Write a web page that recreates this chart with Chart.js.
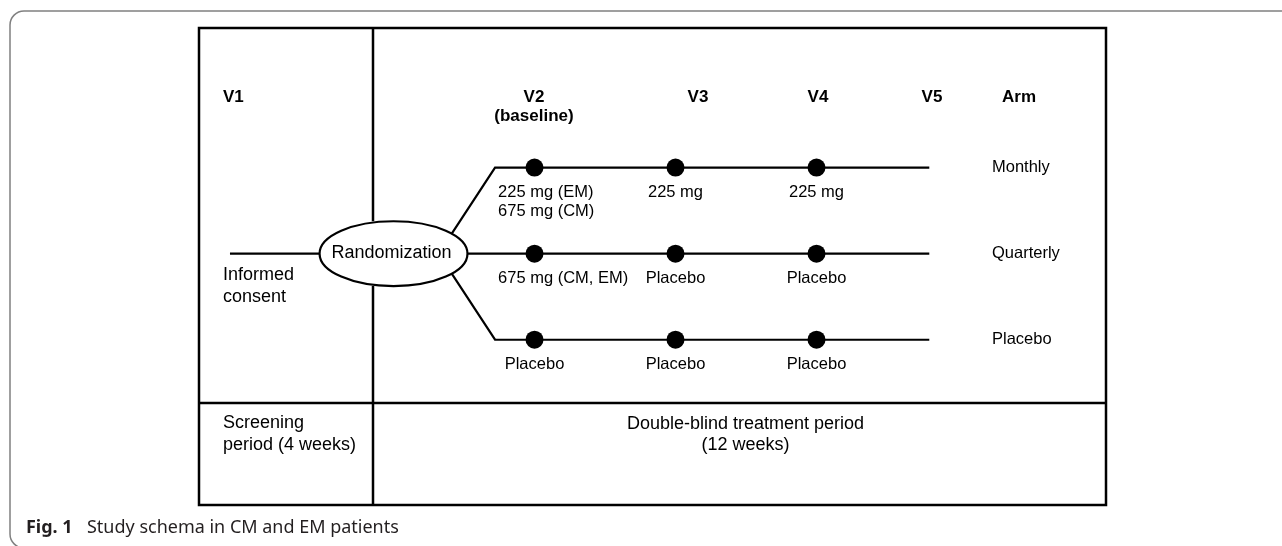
<!DOCTYPE html>
<html>
<head>
<meta charset="utf-8">
<title>Study schema</title>
<script src="https://cdn.jsdelivr.net/npm/chart.js@4.4.1/dist/chart.umd.min.js"></script>
<style>
  html, body { margin: 0; padding: 0; background: #fff; }
  #wrap { width: 1282px; height: 546px; }
</style>
</head>
<body>
<div id="wrap"><canvas id="schema" width="1282" height="546"></canvas></div>
<script>
// visits along the top of the schema
var visits = ['V1', 'V2', 'V3', 'V4', 'V5'];
var visitNotes = ['', '(baseline)', '', '', ''];
var armHeader = 'Arm';

// treatment arms, top to bottom
var arms = ['Monthly', 'Quarterly', 'Placebo'];

// injections happen at V2, V3 and V4 (index into visits)
var doseVisits = [1, 2, 3];
var monthlyDoses = [['225 mg (EM)', '675 mg (CM)'], ['225 mg'], ['225 mg']];
var quarterlyDoses = [['675 mg (CM, EM)'], ['Placebo'], ['Placebo']];
var placeboDoses = [['Placebo'], ['Placebo'], ['Placebo']];

var hubLabel = 'Randomization';
var consentLabel = ['Informed', 'consent'];
var screeningLabel = ['Screening', 'period (4 weeks)'];
var treatmentLabel = ['Double-blind treatment period', '(12 weeks)'];
var captionBold = 'Fig. 1';
var captionText = 'Study schema in CM and EM patients';

// ---- layout (pixels) ----
var W = 1282, H = 546;
var STEP_PX = 143;     // distance between two visits
var ARM_PX = 89;       // distance between two arms
var V2_PX = 533;       // where V2 sits
var ARM0_PX = 164;     // where the first arm sits

// scale ranges so a visit index / arm index lands on the grid
var xMin = 1 - V2_PX / STEP_PX, xMax = xMin + W / STEP_PX;
var yMin = -ARM0_PX / ARM_PX, yMax = yMin + H / ARM_PX;

var HUB = { x: 0, y: 1, rx: 75 / STEP_PX, ry: 33.5 / ARM_PX };
var FORK_X = 0.72;     // where the upper / lower arms turn flat
var END_X = 3.8;       // end of the arm lines (V5)
var CONSENT_X = -1.16;
var EXIT_X = 0.413;    // where the diagonal arms leave the ellipse
var exitDy = HUB.ry * Math.sqrt(1 - Math.pow((EXIT_X - HUB.x) / HUB.rx, 2));

var FONT = '"Liberation Sans", Arial, sans-serif';
var BOX = { left: 199, top: 28, right: 1106, bottom: 505, splitX: 373, splitY: 403 };
var headerX = [223, 534, 698, 818, 932];
var ARM_HEADER_X = 1019;
var HEADER_Y = 97;
var ARM_LABEL_X = 992;

var allDoses = [monthlyDoses, quarterlyDoses, placeboDoses];

// dots for every dose
var dots = [];
arms.forEach(function (arm, a) {
    doseVisits.forEach(function (v) {
        dots.push({ x: v, y: a });
    });
});

// arm lines
var armLines = [
    [{ x: EXIT_X, y: HUB.y - exitDy }, { x: FORK_X, y: 0 }, { x: END_X, y: 0 }],
    [{ x: HUB.x + HUB.rx, y: 1 }, { x: END_X, y: 1 }],
    [{ x: EXIT_X, y: HUB.y + exitDy }, { x: FORK_X, y: 2 }, { x: END_X, y: 2 }]
];
var consentLine = [{ x: CONSENT_X, y: HUB.y }, { x: HUB.x - HUB.rx, y: HUB.y }];

function lineSet(data) {
    return {
        data: data,
        showLine: true,
        borderColor: '#000',
        borderWidth: 2.2,
        pointRadius: 0,
        tension: 0
    };
}

var datasets = [{
    data: dots,
    showLine: false,
    pointRadius: 9,
    pointBackgroundColor: '#000',
    pointBorderWidth: 0
}];
armLines.forEach(function (l) { datasets.push(lineSet(l)); });
datasets.push(lineSet(consentLine));

function roundRect(ctx, x, y, w, h, r) {
    ctx.beginPath();
    ctx.moveTo(x + r, y);
    ctx.lineTo(x + w - r, y);
    ctx.arcTo(x + w, y, x + w, y + r, r);
    ctx.lineTo(x + w, y + h - r);
    ctx.arcTo(x + w, y + h, x + w - r, y + h, r);
    ctx.lineTo(x + r, y + h);
    ctx.arcTo(x, y + h, x, y + h - r, r);
    ctx.lineTo(x, y + r);
    ctx.arcTo(x, y, x + r, y, r);
    ctx.closePath();
}

function text(ctx, str, x, y, font, align) {
    ctx.font = font;
    ctx.textAlign = align || 'left';
    ctx.textBaseline = 'middle';
    ctx.fillText(str, x, y);
}

var schemaPlugin = {
    id: 'schema',
    beforeDatasetsDraw: function (chart) {
        var ctx = chart.ctx;
        var xs = chart.scales.x, ys = chart.scales.y;
        ctx.save();

        // outer figure frame
        ctx.strokeStyle = '#808080';
        ctx.lineWidth = 1.5;
        roundRect(ctx, 10, 11, 1320, 537, 14);
        ctx.stroke();

        // schema box
        ctx.strokeStyle = '#000';
        ctx.lineWidth = 2.5;
        ctx.strokeRect(BOX.left, BOX.top, BOX.right - BOX.left, BOX.bottom - BOX.top);
        ctx.beginPath();
        ctx.moveTo(BOX.left, BOX.splitY);
        ctx.lineTo(BOX.right, BOX.splitY);
        var hubTop = ys.getPixelForValue(HUB.y - HUB.ry);
        var hubBottom = ys.getPixelForValue(HUB.y + HUB.ry);
        ctx.moveTo(BOX.splitX, BOX.top);
        ctx.lineTo(BOX.splitX, hubTop);
        ctx.moveTo(BOX.splitX, hubBottom);
        ctx.lineTo(BOX.splitX, BOX.bottom);
        ctx.stroke();

        // randomization ellipse
        var cx = xs.getPixelForValue(HUB.x), cy = ys.getPixelForValue(HUB.y);
        var rx = xs.getPixelForValue(HUB.x + HUB.rx) - cx;
        var ry = ys.getPixelForValue(HUB.y + HUB.ry) - cy;
        ctx.beginPath();
        ctx.ellipse(cx, cy, rx, ry, 0, 0, Math.PI * 2);
        ctx.fillStyle = '#fff';
        ctx.fill();
        ctx.lineWidth = 2.2;
        ctx.stroke();
        ctx.restore();
    },
    afterDatasetsDraw: function (chart) {
        var ctx = chart.ctx;
        var xs = chart.scales.x, ys = chart.scales.y;
        ctx.save();
        ctx.fillStyle = '#000';

        // visit headers
        var bold = 'bold 17px ' + FONT;
        visits.forEach(function (v, i) {
            text(ctx, v, headerX[i], HEADER_Y, bold, i === 0 ? 'left' : 'center');
            if (visitNotes[i]) text(ctx, visitNotes[i], headerX[i], HEADER_Y + 19, bold, 'center');
        });
        text(ctx, armHeader, ARM_HEADER_X, HEADER_Y, bold, 'center');

        // dose labels under each dot
        var small = '16.5px ' + FONT;
        allDoses.forEach(function (doses, a) {
            doseVisits.forEach(function (v, k) {
                var lines = doses[k];
                var y0 = ys.getPixelForValue(a) + 25;
                var first = k === 0 && a < 2;
                var x = first ? xs.getPixelForValue(FORK_X) + 3 : xs.getPixelForValue(v);
                lines.forEach(function (s, j) {
                    text(ctx, s, x, y0 + j * 19, small, first ? 'left' : 'center');
                });
            });
            text(ctx, arms[a], ARM_LABEL_X, ys.getPixelForValue(a), small, 'left');
        });

        // randomization, consent, periods
        var big = '18px ' + FONT;
        text(ctx, hubLabel, xs.getPixelForValue(HUB.x) - 2, ys.getPixelForValue(HUB.y) - 1, big, 'center');
        text(ctx, consentLabel[0], 223, 275, big, 'left');
        text(ctx, consentLabel[1], 223, 297, big, 'left');
        text(ctx, screeningLabel[0], 223, 423, big, 'left');
        text(ctx, screeningLabel[1], 223, 445, big, 'left');
        var midX = (BOX.splitX + BOX.right) / 2 + 6;
        text(ctx, treatmentLabel[0], midX, 424, big, 'center');
        text(ctx, treatmentLabel[1], midX, 445, big, 'center');

        // caption
        ctx.fillStyle = '#231f20';
        ctx.font = '16px "Noto Sans", sans-serif';
        var size = 16 * 312 / ctx.measureText(captionText).width;
        text(ctx, captionBold, 26, 528, 'bold ' + size + 'px "Noto Sans", sans-serif', 'left');
        text(ctx, captionText, 87, 528, size + 'px "Noto Sans", sans-serif', 'left');
        ctx.restore();
    }
};

new Chart(document.getElementById('schema'), {
    type: 'scatter',
    data: { datasets: datasets },
    options: {
        responsive: false,
        animation: false,
        events: [],
        layout: { padding: 0 },
        plugins: { legend: { display: false }, tooltip: { enabled: false } },
        scales: {
            x: { type: 'linear', display: false, min: xMin, max: xMax },
            y: { type: 'linear', display: false, min: yMin, max: yMax, reverse: true }
        }
    },
    plugins: [schemaPlugin]
});
</script>
</body>
</html>
